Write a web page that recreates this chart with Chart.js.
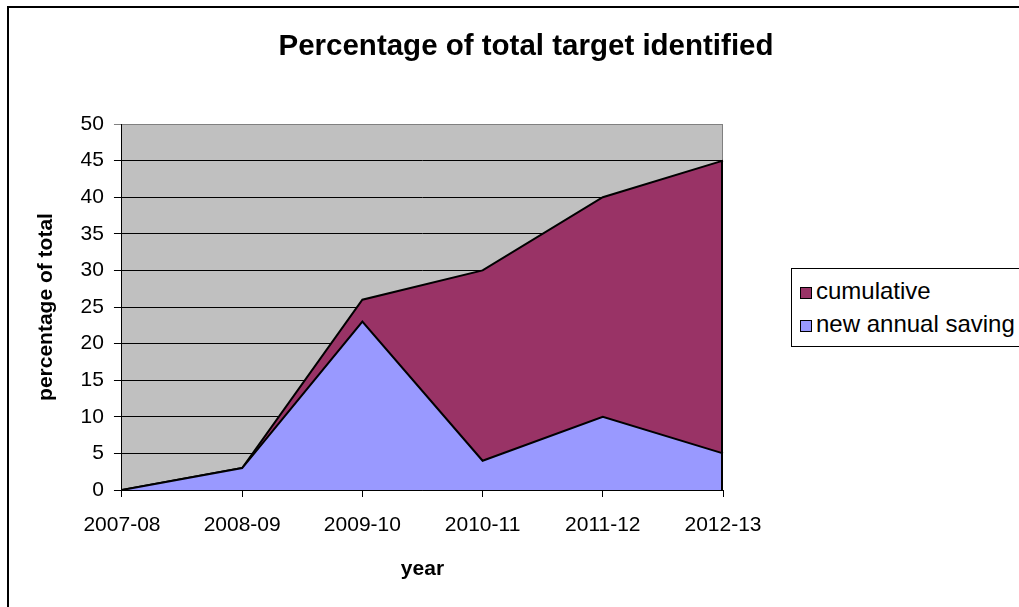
<!DOCTYPE html>
<html>
<head>
<meta charset="utf-8">
<title>Percentage of total target identified</title>
<script src="https://cdn.jsdelivr.net/npm/chart.js@4.4.1/dist/chart.umd.min.js"></script>
<style>
  html, body { margin: 0; padding: 0; background: #fff; overflow: hidden; }
  body { width: 1019px; height: 607px; position: relative; font-family: "Liberation Sans", Arial, sans-serif; }
  #frame { position: absolute; left: 7px; top: 6px; width: 1040px; height: 620px; border: 2px solid #000; overflow: hidden; }
  #chart { position: absolute; left: 0; top: 0; }
  #legend { position: absolute; left: 791px; top: 268px; width: 260px; height: 77px; border: 1px solid #000; background: #fff; }
  #legend .item { position: absolute; left: 8px; height: 24px; line-height: 24px; font-size: 24px; color: #000; white-space: nowrap; }
  #legend .box { display: inline-block; width: 10px; height: 10px; border: 1px solid #000; margin-right: 4px; vertical-align: 0px; }
</style>
</head>
<body>
<div id="frame">
  <canvas id="chart" width="1026" height="599"></canvas>
</div>
<div id="legend"></div>

<script>
// chart data
const years = ["2007-08", "2008-09", "2009-10", "2010-11", "2011-12", "2012-13"];
const cumulative = [0, 3, 26, 30, 40, 45];
const newAnnualSaving = [0, 3, 23, 4, 10, 5];
const yMin = 0, yMax = 50, yStep = 5;

const fontFamily = '"Liberation Sans", Arial, sans-serif';

// grey plot area with a grey frame, like the old spreadsheet charts
const plotArea = {
  id: "plotArea",
  beforeDraw(chart) {
    const {ctx, chartArea: a} = chart;
    ctx.save();
    ctx.fillStyle = "#c0c0c0";
    ctx.fillRect(a.left, a.top, a.right - a.left, a.bottom - a.top);
    ctx.restore();
  },
  beforeDatasetsDraw(chart) {
    const {ctx, chartArea: a} = chart;
    ctx.save();
    ctx.strokeStyle = "#808080";
    ctx.lineWidth = 1;
    ctx.beginPath();
    ctx.moveTo(a.left, a.top + 0.5);
    ctx.lineTo(a.right - 0.5, a.top + 0.5);
    ctx.lineTo(a.right - 0.5, a.bottom);
    ctx.stroke();
    ctx.restore();
  },
  // close the areas on the right with an outline
  afterDatasetsDraw(chart) {
    const {ctx} = chart;
    const pts = chart.getDatasetMeta(0).data;
    const last = pts[pts.length - 1];
    ctx.save();
    ctx.strokeStyle = "#000";
    ctx.lineWidth = 2;
    ctx.beginPath();
    ctx.moveTo(last.x - 1, last.y);
    ctx.lineTo(last.x - 1, chart.scales.y.getPixelForValue(0));
    ctx.stroke();
    ctx.restore();
  }
};

const chart = new Chart("chart", {
  type: "line",
  data: {
    labels: years,
    datasets: [{
      label: "cumulative",
      data: cumulative,
      fill: "origin",
      backgroundColor: "#993366",
      borderColor: "#000",
      borderWidth: 2,
      pointRadius: 0,
      tension: 0,
      order: 2
    },
    {
      label: "new annual saving",
      data: newAnnualSaving,
      fill: "origin",
      backgroundColor: "#9999ff",
      borderColor: "#000",
      borderWidth: 2,
      pointRadius: 0,
      tension: 0,
      order: 1
    }]
  },
  options: {
    responsive: false,
    animation: false,
    events: [],
    layout: { padding: { left: 8, right: 0, top: 0, bottom: 0 } },
    plugins: {
      legend: { display: false },
      tooltip: { enabled: false },
      title: {
        display: true,
        text: "Percentage of total target identified",
        color: "#000",
        font: { family: fontFamily, size: 29.5, weight: "bold" },
        padding: { top: 21.3, bottom: 59.3 }
      }
    },
    scales: {
      x: {
        offset: false,
        grid: { drawOnChartArea: false, drawTicks: true, tickLength: 7, color: "#000" },
        border: { color: "#000", width: 1 },
        ticks: {
          color: "#000",
          font: { family: fontFamily, size: 21 },
          padding: 16,
          maxRotation: 0,
          autoSkip: false
        },
        title: {
          display: true,
          text: "year",
          color: "#000",
          font: { family: fontFamily, size: 21, weight: "bold" },
          padding: { top: 2.2, bottom: 25.4 }
        }
      },
      y: {
        min: yMin,
        max: yMax,
        grid: {
          color: c => (c.tick && c.tick.value === yMax ? "#808080" : "#000"),
          tickLength: 8
        },
        border: { color: "#000", width: 1 },
        ticks: {
          stepSize: yStep,
          color: "#000",
          font: { family: fontFamily, size: 21 },
          padding: 10
        },
        title: {
          display: true,
          text: "percentage of total",
          color: "#000",
          font: { family: fontFamily, size: 21, weight: "bold" },
          padding: { top: 16.4, bottom: 12 }
        }
      },
      // empty axis on the right, keeps room free for the legend box
      gap: {
        type: "linear",
        position: "right",
        grid: { display: false },
        border: { display: false },
        ticks: { display: false },
        afterFit: scale => { scale.width = 312; }
      }
    }
  },
  plugins: [plotArea]
});

// legend as html, in the same order as the datasets
const legendEl = document.getElementById("legend");
chart.data.datasets.forEach((ds, i) => {
  const item = document.createElement("div");
  item.className = "item";
  item.style.top = (10 + i * 33) + "px";
  const box = document.createElement("span");
  box.className = "box";
  box.style.background = ds.backgroundColor;
  item.appendChild(box);
  item.appendChild(document.createTextNode(ds.label));
  legendEl.appendChild(item);
});
</script>
</body>
</html>
